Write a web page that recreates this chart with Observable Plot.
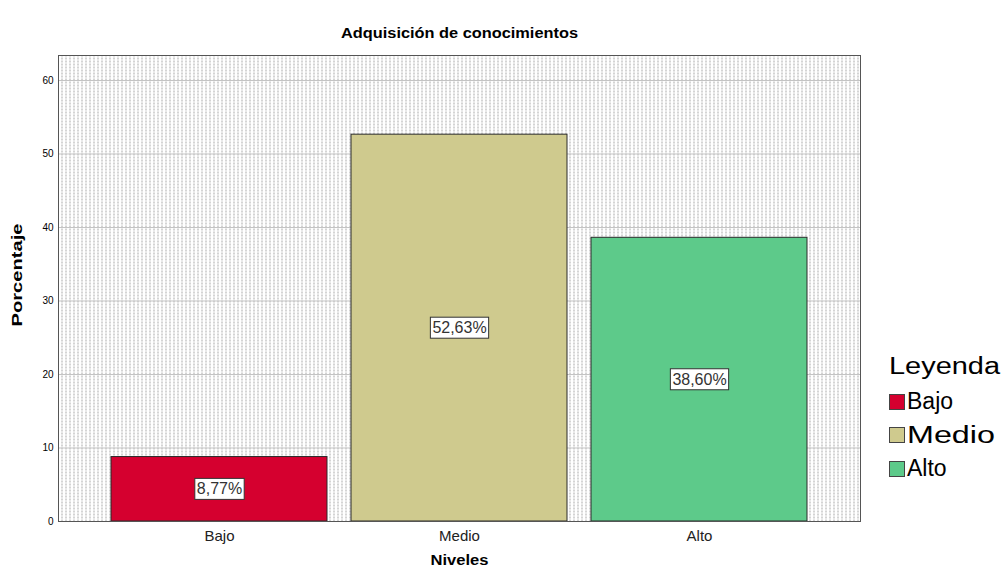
<!DOCTYPE html>
<html>
<head>
<meta charset="utf-8">
<script src="https://cdn.jsdelivr.net/npm/d3@7"></script>
<script src="https://cdn.jsdelivr.net/npm/@observablehq/plot@0.6"></script>
<style>
  html, body { margin: 0; padding: 0; background: #fff; }
  #wrap { position: relative; width: 1006px; height: 571px; font-family: "Liberation Sans", Arial, sans-serif; }
  #legend { position: absolute; left: 889px; top: 355px; color: #000; font-size: 23px; line-height: 1; }
  #legend .ttl { display: inline-block; transform-origin: left center; margin-bottom: 7px; white-space: nowrap; }
  #legend .row { display: flex; align-items: center; height: 33.5px; white-space: nowrap; }
  #legend .sw { width: 16px; height: 16px; border: 1px solid #444; margin-right: 2px; box-sizing: border-box; flex: none; }
  #legend .lbl { display: inline-block; transform-origin: left center; }
</style>
</head>
<body>
<div id="wrap"></div>
<script>
const title = "Adquisición de conocimientos";
const xLabel = "Niveles";
const yLabel = "Porcentaje";
const legendTitle = "Leyenda";
const categories = ["Bajo", "Medio", "Alto"];
const values = [8.77, 52.63, 38.60];
const colors = ["#d5002f", "#cfca8e", "#5dca8a"];
const yTicks = [0, 10, 20, 30, 40, 50, 60];

const data = categories.map((c, i) => ({nivel: c, pct: values[i]}));
const fmt = v => v.toFixed(2).replace(".", ",") + "%";

const chart = Plot.plot({
  width: 1006,
  height: 571,
  marginLeft: 58,
  marginRight: 146,
  marginTop: 55,
  marginBottom: 50,
  style: {fontFamily: "Liberation Sans, Arial, sans-serif", background: "#fff", color: "#000"},
  x: {domain: categories, paddingInner: 0.1, paddingOuter: 0.214, label: null},
  y: {domain: [0, 63.4], label: null},
  color: {domain: categories, range: colors},
  marks: [
    Plot.frame({fill: "url(#dots)", stroke: "none"}),
    Plot.gridY(yTicks, {stroke: "#c4c4c4", strokeOpacity: 1, strokeWidth: 1}),
    Plot.barY(data, {x: "nivel", y: "pct", fill: "nivel", stroke: "#2a2a2a", strokeWidth: 1}),
    Plot.frame({stroke: "#555", strokeWidth: 1}),
    Plot.axisY(yTicks, {tickSize: 0, tickPadding: 5, fontSize: 10, label: null, fill: "#000"}),
    Plot.axisX({tickSize: 0, tickPadding: 9, fontSize: 15, label: null, fill: "#222"}),
    Plot.text(data, {x: "nivel", y: d => d.pct / 2, text: d => fmt(d.pct), fontSize: 16, fill: "#333", className: "vlabel"}),
    Plot.text([title], {frameAnchor: "top", dy: -27, fontSize: 14, fontWeight: "bold", fill: "#000", className: "ttl"}),
    Plot.text([xLabel], {frameAnchor: "bottom", dy: 43, fontSize: 14, fontWeight: "bold", fill: "#000", className: "xlab"}),
    Plot.text([yLabel], {frameAnchor: "left", dx: -40, rotate: -90, fontSize: 14, fontWeight: "bold", fill: "#000", className: "ylab"})
  ]
});

const wrap = document.getElementById("wrap");
wrap.appendChild(chart);

// dotted background pattern
const ns = "http://www.w3.org/2000/svg";
const defs = document.createElementNS(ns, "defs");
defs.innerHTML = '<pattern id="dots" width="4" height="3" patternUnits="userSpaceOnUse">' +
  '<rect width="4" height="3" fill="#fff"/>' +
  '<rect x="1" y="0" width="1" height="2" fill="#a8a8a8"/></pattern>';
chart.insertBefore(defs, chart.firstChild);

// stretch text to the wider letter spacing of the original
function stretch(sel, w) {
  chart.querySelectorAll(sel).forEach(t => {
    t.setAttribute("textLength", w);
    t.setAttribute("lengthAdjust", "spacingAndGlyphs");
  });
}
stretch("g.ttl text", 237);
stretch("g.xlab text", 58);
stretch("g.ylab text", 103);
// place the rotated y label at the original's spot
chart.querySelectorAll("g.ylab text").forEach(t => {
  t.parentNode.removeAttribute("transform");
  t.removeAttribute("x");
  t.removeAttribute("y");
  t.setAttribute("transform", "translate(18,275) rotate(-90)");
  t.setAttribute("text-anchor", "middle");
  t.setAttribute("dy", "0.32em");
});

// white boxes behind value labels
chart.querySelectorAll("g.vlabel text").forEach(t => {
  const b = t.getBBox();
  const r = document.createElementNS(ns, "rect");
  r.setAttribute("x", b.x - 2);
  r.setAttribute("y", b.y - 2);
  r.setAttribute("width", b.width + 4);
  r.setAttribute("height", b.height + 4);
  r.setAttribute("fill", "#fff");
  r.setAttribute("stroke", "#333");
  r.setAttribute("stroke-width", 1);
  const tr = t.getAttribute("transform");
  if (tr) r.setAttribute("transform", tr);
  t.parentNode.insertBefore(r, t);
});

// legend
const lg = document.createElement("div");
lg.id = "legend";
let html = '<div><span class="ttl">' + legendTitle + '</span></div>';
categories.forEach((c, i) => {
  html += '<div class="row"><div class="sw" style="background:' + colors[i] + '"></div><span class="lbl">' + c + '</span></div>';
});
lg.innerHTML = html;
wrap.appendChild(lg);
// widen legend text to the original's widths
function widen(el, w) {
  el.style.transform = "scaleX(" + (w / el.getBoundingClientRect().width) + ")";
}
widen(lg.querySelector(".ttl"), 111);
widen(lg.querySelectorAll(".lbl")[1], 88);
</script>
</body>
</html>
